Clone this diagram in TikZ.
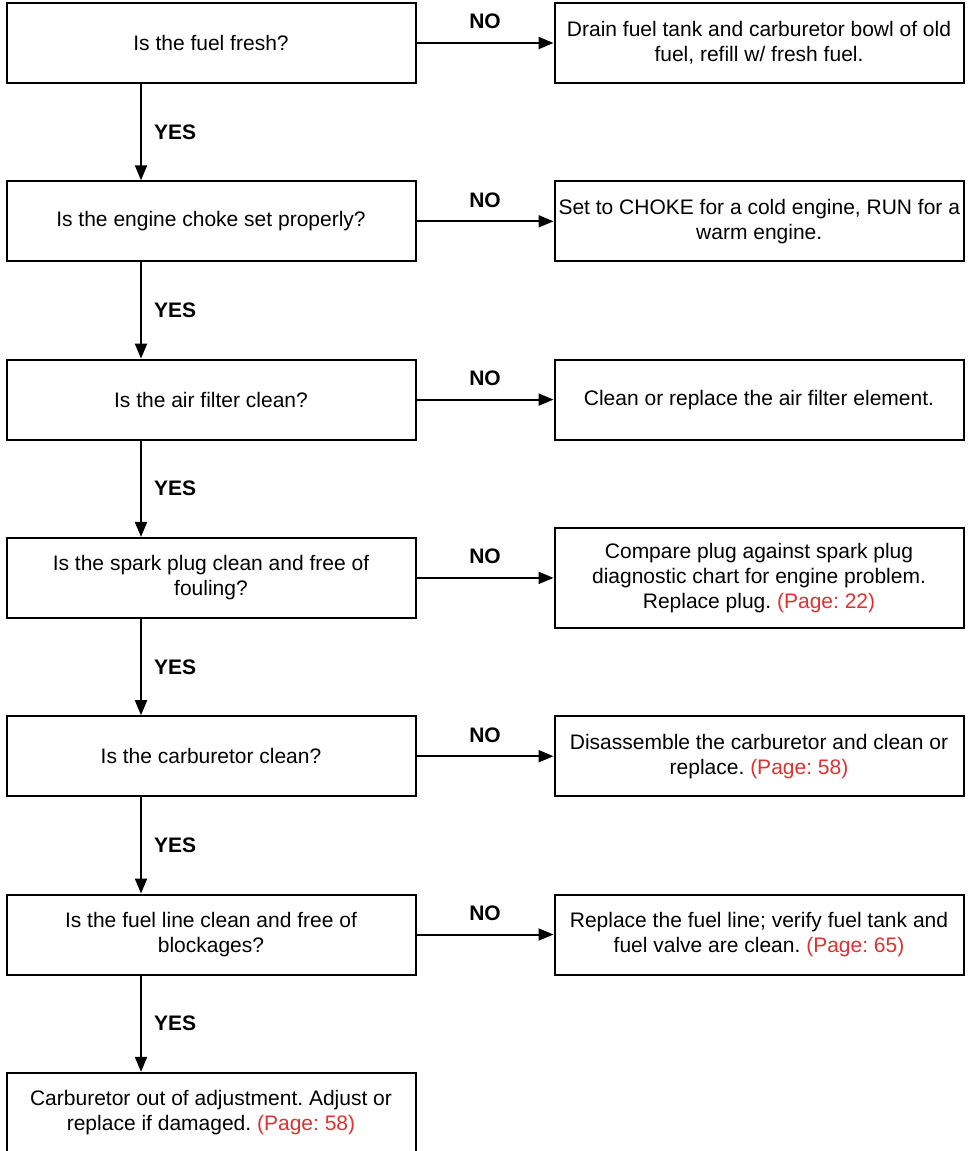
\documentclass[tikz,border=0pt]{standalone}
\usepackage{fontspec}
\setmainfont{Liberation Sans}
\usepackage{xcolor}
\usepackage{tikz}
\usetikzlibrary{arrows.meta}
\usetikzlibrary{positioning}
\frenchspacing
\definecolor{pagered}{RGB}{220,50,50}
\newcommand\pg[1]{\textcolor{pagered}{(Page: #1)}}
\tikzstyle{flhead}=[>/.tip={Triangle[length=15pt,width=12pt]}]
\tikzstyle{fl}  =[line width=2pt,flhead,->]
\tikzstyle{qbox}=[draw,line width=2pt,minimum width=409pt,minimum height=80pt,inner xsep=4pt,inner ysep=15pt,align=center,font=\fontsize{21}{25}\selectfont]
\tikzstyle{lbl} =[inner sep=0pt,font=\fontsize{21}{25}\selectfont\bfseries]

\begin{document}
\begin{tikzpicture}[x=1pt,y=1pt,node distance=96.3pt and 137pt]
	\fill[white] (0,0) rectangle (968,-1151);
	\useasboundingbox (0,0) rectangle (968,-1151);
	% questions
	\node[qbox] (q1) at (211,-43) {Is the fuel fresh?};
	\node[qbox,below=of q1] (q2) {Is the engine choke set properly?};
	\node[qbox,below=of q2] (q3) {Is the air filter clean?};
	\node[qbox,below=of q3] (q4) {Is the spark plug clean and free of\\ fouling?};
	\node[qbox,below=of q4] (q5) {Is the carburetor clean?};
	\node[qbox,below=of q5] (q6) {Is the fuel line clean and free of\\ blockages?};
	\node[qbox,below=of q6] (q7) {Carburetor out of adjustment. Adjust or\\ replace if damaged. \pg{58}};
	% remedies
	\node[qbox,right=of q1] (a1) {Drain fuel tank and carburetor bowl of old\\ fuel, refill w/ fresh fuel.};
	\node[qbox,right=of q2] (a2) {Set to CHOKE for a cold engine, RUN for a\\ warm engine.};
	\node[qbox,right=of q3] (a3) {Clean or replace the air filter element.};
	\node[qbox,right=of q4] (a4) {Compare plug against spark plug\\ diagnostic chart for engine problem.\\ Replace plug. \pg{22}};
	\node[qbox,right=of q5] (a5) {Disassemble the carburetor and clean or\\ replace. \pg{58}};
	\node[qbox,right=of q6] (a6) {Replace the fuel line; verify fuel tank and\\ fuel valve are clean. \pg{65}};
	% connectors
	\foreach \i in {1,...,6}
	  \draw[fl] (q\i) --node[lbl,above=13pt]{NO} (a\i);
	\foreach \i [evaluate=\i as \j using int(\i+1)] in {1,...,6}
	  \draw[fl] ([xshift=-70pt]q\i.south) --node[lbl,right=12pt]{YES} ([xshift=-70pt]q\j.north);
\end{tikzpicture}
\end{document}
